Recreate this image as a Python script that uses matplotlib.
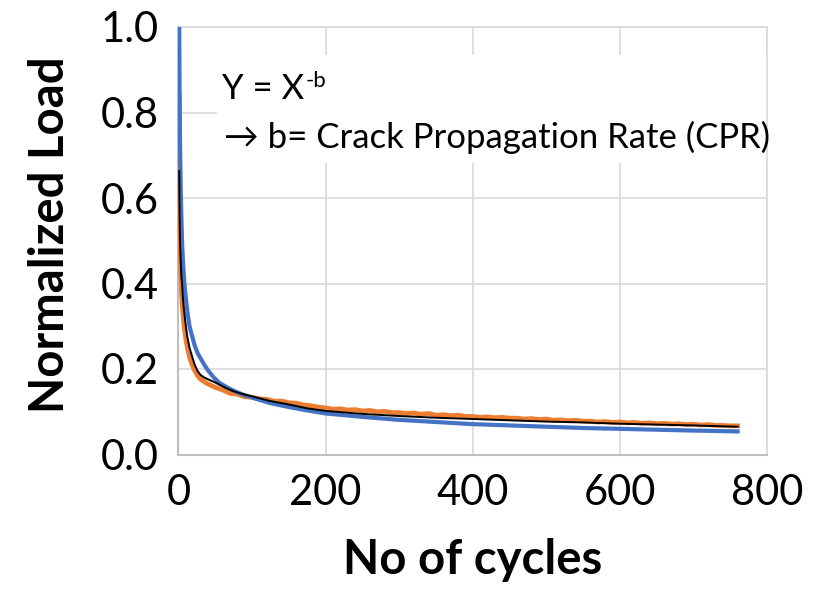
import matplotlib.pyplot as plt
from matplotlib.patches import Rectangle

# power-law curve Y = X^-b
fit_cycles = [1, 1.5, 2, 3, 4, 5, 6, 7, 8, 10, 12, 15, 18, 22, 26, 30, 35, 40, 48, 56, 65, 75, 88,
              100, 125, 150, 175, 200, 250, 300, 350, 400, 450, 500, 550, 600, 650, 700, 760]
fit_load = [1.0, 0.84, 0.74, 0.62, 0.55, 0.49, 0.455, 0.425, 0.40, 0.365, 0.335, 0.30, 0.28, 0.255,
            0.237, 0.225, 0.21, 0.197, 0.18, 0.167, 0.158, 0.149, 0.14,
            0.133, 0.12, 0.111, 0.103, 0.096, 0.088, 0.081, 0.076, 0.071, 0.068, 0.065, 0.062,
            0.060, 0.058, 0.056, 0.054]

# trendline through the measured data
trend_cycles = [1, 1.5, 2, 3, 4, 5, 6, 7, 8, 10, 12, 15, 18, 22, 26, 30, 35, 40, 48, 56, 65, 75, 88,
                100, 125, 150, 175, 200, 250, 300, 350, 400, 450, 500, 550, 600, 650, 700, 760]
trend_load = [0.663, 0.56, 0.50, 0.45, 0.415, 0.395, 0.365, 0.345, 0.33, 0.30, 0.275, 0.25, 0.232,
              0.21, 0.195, 0.186, 0.18, 0.176, 0.17, 0.163, 0.155, 0.148, 0.141,
              0.136, 0.125, 0.117, 0.108, 0.102, 0.095, 0.090, 0.086, 0.083, 0.080, 0.077, 0.075,
              0.072, 0.070, 0.068, 0.065]

# measured normalized load
test_cycles = [1, 1.5, 2, 3, 4, 5, 6, 8, 10, 12, 15, 18, 22, 26, 30, 35, 40, 45, 50,
               60, 70, 80, 90, 100, 110, 120, 130, 140, 150, 160, 170, 180, 190, 200,
               210, 220, 230, 240, 250, 260, 270, 280, 290, 300, 310, 320, 330, 340, 350,
               360, 370, 380, 390, 400, 410, 420, 430, 440, 450, 460, 470, 480, 490, 500,
               510, 520, 530, 540, 550, 560, 570, 580, 590, 600, 610, 620, 630, 640, 650,
               660, 670, 680, 690, 700, 710, 720, 730, 740, 750, 760]
test_load = [0.84, 0.66, 0.55, 0.43, 0.38, 0.35, 0.33, 0.295, 0.27, 0.25, 0.228, 0.212, 0.196,
             0.184, 0.176, 0.17, 0.165, 0.161, 0.157,
             0.151, 0.143, 0.141, 0.135, 0.134, 0.130, 0.129, 0.125, 0.125, 0.121, 0.120, 0.116, 0.114, 0.111, 0.109,
             0.106, 0.107, 0.104, 0.105, 0.102, 0.103, 0.100, 0.101, 0.098, 0.098, 0.096, 0.097, 0.094, 0.096, 0.092,
             0.093, 0.091, 0.092, 0.089, 0.089, 0.087, 0.088, 0.086, 0.087, 0.085, 0.085, 0.083, 0.084, 0.082, 0.083,
             0.080, 0.081, 0.079, 0.080, 0.078, 0.078, 0.076, 0.077, 0.075, 0.076, 0.074, 0.075, 0.073, 0.074, 0.072,
             0.073, 0.071, 0.072, 0.070, 0.071, 0.069, 0.070, 0.068, 0.068, 0.067, 0.067]

plt.rcParams['font.family'] = ['Lato', 'DejaVu Sans']

fig = plt.figure(figsize=(8.2, 5.94), dpi=100)
ax = fig.add_axes([178.5 / 820, 1 - 454.5 / 594, 588.5 / 820, 427.5 / 594])

ax.plot(test_cycles, test_load, color='#ed7d31', linewidth=3.4, zorder=3)
ax.plot(fit_cycles, fit_load, color='#4472c4', linewidth=3.0, zorder=4)
ax.plot(trend_cycles, trend_load, color='black', linewidth=1.4, zorder=5)

ax.set_xlim(0, 800)
ax.set_ylim(0, 1.0)
ax.set_xticks([0, 200, 400, 600, 800])
ax.set_yticks([0.0, 0.2, 0.4, 0.6, 0.8, 1.0])
ax.set_yticklabels(['0.0', '0.2', '0.4', '0.6', '0.8', '1.0'])
ax.tick_params(length=0, labelsize=30, pad=14)
ax.grid(True, color='#d9d9d9', linewidth=1.2, zorder=0)
ax.set_axisbelow(True)
for side in ['top', 'right']:
    ax.spines[side].set_color('#d9d9d9')
    ax.spines[side].set_linewidth(1.2)
for side in ['left', 'bottom']:
    ax.spines[side].set_color('#bfbfbf')
    ax.spines[side].set_linewidth(1.5)

ax.set_xlabel('No of cycles', fontsize=34, fontweight='bold', va='center')
ax.set_ylabel('Normalized Load', fontsize=34, fontweight='bold', va='center')
ax.xaxis.set_label_coords((473 - 178.5) / 588.5, (454.5 - 560) / 427.5)
ax.yaxis.set_label_coords((50 - 178.5) / 588.5, (454.5 - 235) / 427.5)

# white box behind the equation text
ax.add_patch(Rectangle(((217 - 178.5) / 588.5, (454.5 - 163) / 427.5),
                       (767 - 217) / 588.5 + 0.01, (163 - 55) / 427.5,
                       transform=ax.transAxes, facecolor='white', edgecolor='none',
                       zorder=1, clip_on=False))

eq = ax.text((222 - 178.5) / 588.5, (454.5 - 89) / 427.5, 'Y = X', transform=ax.transAxes,
             fontsize=25, va='center', ha='left', zorder=6)
ax.annotate('-b', xy=(1.0, 0.92), xycoords=eq, xytext=(1, 3), textcoords='offset points',
            fontsize=16, va='top', ha='left', zorder=6)
ax.text((224 - 178.5) / 588.5, (454.5 - 137) / 427.5, '\u2192 b= Crack Propagation Rate (CPR)',
        transform=ax.transAxes, fontsize=25, va='center', ha='left', zorder=6)

fig.savefig('out.png', dpi=100)
